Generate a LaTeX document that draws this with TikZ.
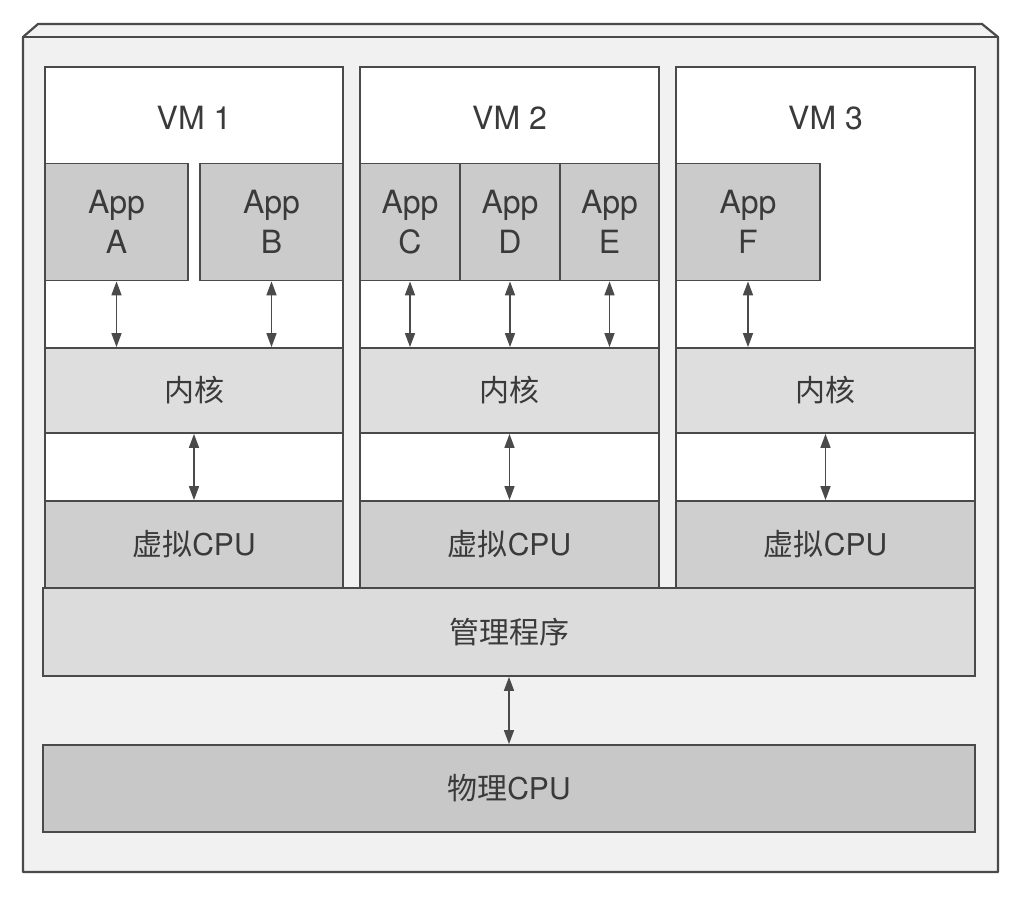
\documentclass[tikz,border=0pt]{standalone}
\usepackage{fontspec}
\setmainfont{TeX Gyre Heros}
\newfontfamily\cjk{Noto Sans CJK SC}
\usetikzlibrary{arrows.meta}
\definecolor{linec}{HTML}{4A4A4A}
\definecolor{txt}{HTML}{3A3A3A}
\definecolor{bgc}{HTML}{F1F1F1}
\definecolor{appc}{HTML}{CBCBCB}
\definecolor{kernc}{HTML}{DEDEDE}
\definecolor{vcpuc}{HTML}{CFCFCF}
\definecolor{hypc}{HTML}{DCDCDC}
\definecolor{physc}{HTML}{C8C8C8}
\begin{document}
\begin{tikzpicture}[x=1pt,y=-1pt,
  box/.style={draw=linec, line width=1.8pt, rectangle, inner sep=0pt, text=txt, align=center},
  lab/.style={text=txt, inner sep=0pt, font=\fontsize{32}{34}\selectfont},
  apptext/.style={font=\fontsize{32}{40}\selectfont},
  cjktext/.style={font=\fontsize{30}{32}\selectfont},
  arr/.style={{Triangle[length=14pt,width=10pt]}-{Triangle[length=14pt,width=10pt]}, line width=1.6pt, draw=linec}]
\useasboundingbox (0,0) rectangle (1026,904);
% outer frame
\fill[bgc] (23,37) rectangle (998,872);
\fill[white!95!black] (23,37) -- (38,24) -- (982,24) -- (998,37) -- cycle;
\draw[linec, line width=2.2pt, line join=round] (23,872) -- (23,37) -- (38,24) -- (982,24) -- (998,37) -- (998,872) -- cycle;
\draw[linec, line width=2.2pt] (23,37) -- (998,37);
% VM boxes
\node[box, fill=white, minimum width=298pt, minimum height=521pt] (vm1) at (194,327.5) {};
\node[box, fill=white, minimum width=299pt, minimum height=521pt] (vm2) at (509.5,327.5) {};
\node[box, fill=white, minimum width=299pt, minimum height=521pt] (vm3) at (825.5,327.5) {};
\node[lab] (vm1l) at (194,118) {VM 1};
\node[lab] (vm2l) at (509.5,118) {VM 2};
\node[lab] (vm3l) at (825.5,118) {VM 3};
% apps
\node[box, fill=appc, apptext, minimum width=143pt, minimum height=117pt] (appA) at (116.5,222) {App\\A};
\node[box, fill=appc, apptext, minimum width=143pt, minimum height=117pt] (appB) at (271.5,222) {App\\B};
\node[box, fill=appc, apptext, minimum width=100pt, minimum height=117pt] (appC) at (410,222) {App\\C};
\node[box, fill=appc, apptext, minimum width=100pt, minimum height=117pt] (appD) at (510,222) {App\\D};
\node[box, fill=appc, apptext, minimum width=99pt, minimum height=117pt] (appE) at (609.5,222) {App\\E};
\node[box, fill=appc, apptext, minimum width=144pt, minimum height=117pt] (appF) at (748,222) {App\\F};
% kernels
\node[box, fill=kernc, cjktext, minimum width=298pt, minimum height=85pt] (k1) at (194,390.5) {\cjk 内核};
\node[box, fill=kernc, cjktext, minimum width=299pt, minimum height=85pt] (k2) at (509.5,390.5) {\cjk 内核};
\node[box, fill=kernc, cjktext, minimum width=299pt, minimum height=85pt] (k3) at (825.5,390.5) {\cjk 内核};
% virtual CPUs
\node[box, fill=vcpuc, cjktext, minimum width=298pt, minimum height=87pt] (v1) at (194,544.5) {{\cjk 虚拟}CPU};
\node[box, fill=vcpuc, cjktext, minimum width=299pt, minimum height=87pt] (v2) at (509.5,544.5) {{\cjk 虚拟}CPU};
\node[box, fill=vcpuc, cjktext, minimum width=299pt, minimum height=87pt] (v3) at (825.5,544.5) {{\cjk 虚拟}CPU};
% hypervisor and physical CPU
\node[box, fill=hypc, cjktext, minimum width=932pt, minimum height=88pt] (hyp) at (509,632) {\cjk 管理程序};
\node[box, fill=physc, cjktext, minimum width=932pt, minimum height=87pt] (phys) at (509,788.5) {{\cjk 物理}CPU};
% arrows
\draw[arr] (appA.south) -- (appA.south |- k1.north);
\draw[arr] (appB.south) -- (appB.south |- k1.north);
\draw[arr] (appC.south) -- (appC.south |- k2.north);
\draw[arr] (appD.south) -- (appD.south |- k2.north);
\draw[arr] (appE.south) -- (appE.south |- k2.north);
\draw[arr] (appF.south) -- (appF.south |- k3.north);
\draw[arr] (k1.south) -- (v1.north);
\draw[arr] (k2.south) -- (v2.north);
\draw[arr] (k3.south) -- (v3.north);
\draw[arr] (hyp.south) -- (phys.north);
\end{tikzpicture}
\end{document}
